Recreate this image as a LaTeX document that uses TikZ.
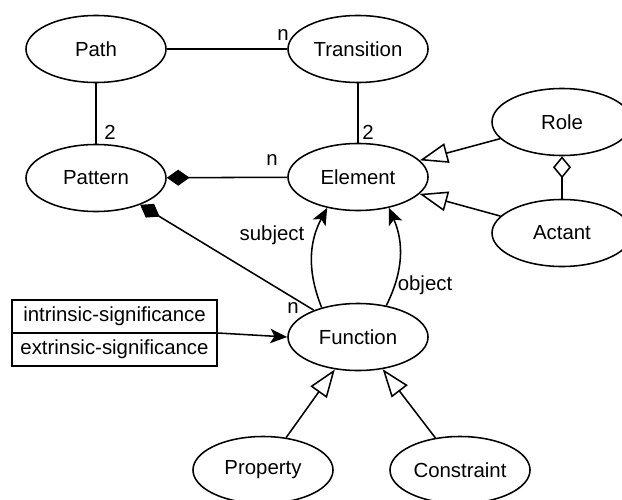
\documentclass[tikz,border=0pt]{standalone}
\usepackage{fontspec}
\setmainfont{Liberation Sans}
\usepackage{tikz}
\usetikzlibrary{shapes.geometric, shapes.multipart, arrows.meta}

\begin{document}
\begin{tikzpicture}[
  x=0.025cm, y=-0.025cm,
  every node/.style={font=\fontsize{14.5}{16}\selectfont},
  every path/.style={line width=1.1pt},
  cls/.style={
    ellipse, draw, minimum width=3.5cm, minimum height=1.675cm, inner sep=0pt
  },
  attr/.style={
    rectangle split, rectangle split parts=2, draw,
    minimum width=5.125cm, inner ysep=4.4pt,
    rectangle split part align=center
  },
  whole/.style={{Diamond[length=0.57cm, width=0.4cm]}-},
  agg/.style={{Diamond[open, length=0.55cm, width=0.45cm]}-},
  isa/.style={-{Triangle[open, length=0.7cm, width=0.5cm]}},
  ref/.style={-{Stealth[length=0.42cm, width=0.36cm, inset=0.1cm]}},
  card/.style={inner sep=1pt}
]
\useasboundingbox (0,0) rectangle (622,499);

\node[cls] (path)       at (96,49)   {Path};
\node[cls] (transition) at (358,49)  {Transition};
\node[cls] (pattern)    at (96,178)  {Pattern};
\node[cls] (element)    at (358,177) {Element};
\node[cls] (role)       at (562,122) {Role};
\node[cls] (actant)     at (562,233) {Actant};
\node[cls] (function)   at (358,337) {Function};
\node[cls] (property)   at (263,470) {Property};
\node[cls] (constraint) at (460,470) {Constraint};

\node[attr] (sig) at (114.5,333) {intrinsic-significance\nodepart{two}extrinsic-significance};

\draw (path) -- (transition);
\draw (path) -- (pattern);
\draw (transition) -- (element);
\draw[whole] (pattern) -- (element);
\draw[whole] (pattern) -- (function);
\draw[agg] (role) -- (actant);
\draw[isa] (role) -- (element);
\draw[isa] (actant) -- (element);
\draw[isa] (property) -- (function);
\draw[isa] (constraint) -- (function);
\draw[ref] (function.141) to[bend left=25] (element.225);
\draw[ref] (function.48) to[bend right=25] (element.315);
\draw[ref] (sig.one split east) -- (function.west);

\node[card] (n1) at (283,35)  {n};
\node[card] (c1) at (110,132) {2};
\node[card] (c2) at (368,132) {2};
\node[card] (n2) at (272,160) {n};
\node[card] (n3) at (293,308) {n};
\node (subj) at (272,235) {subject};
\node (obj)  at (425,285) {object};
\end{tikzpicture}
\end{document}
